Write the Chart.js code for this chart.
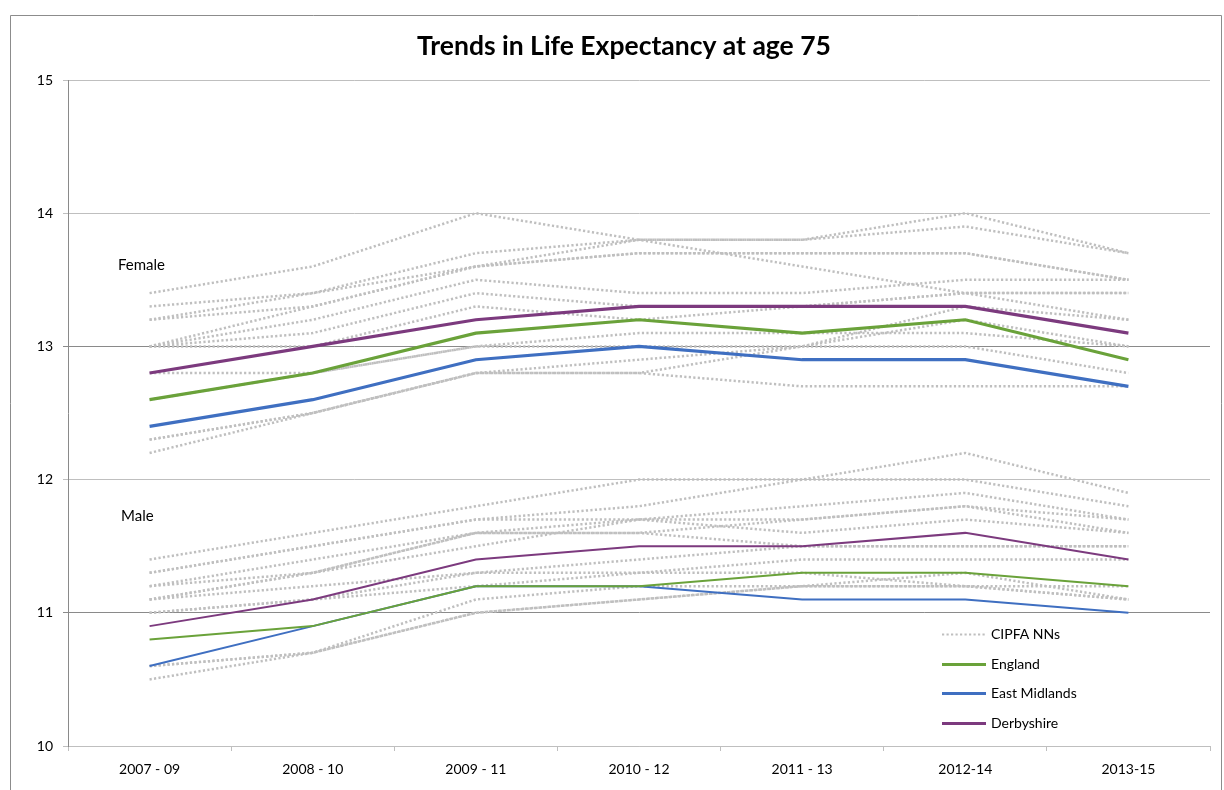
<!DOCTYPE html>
<html><head><meta charset="utf-8">
<script src="https://cdn.jsdelivr.net/npm/chart.js@4"></script>
<style>html,body{margin:0;padding:0;background:#fff}#wrap{width:1224px;height:790px;position:relative}</style>
</head><body><div id="wrap"><canvas id="c" width="1224" height="790"></canvas></div>
<script>
const categories = ["2007 - 09","2008 - 10","2009 - 11","2010 - 12","2011 - 13","2012-14","2013-15"];
const yTicks = [10,11,12,13,14,15];

const derbyshireFemale = [12.8,13.0,13.2,13.3,13.3,13.3,13.1];
const englandFemale    = [12.6,12.8,13.1,13.2,13.1,13.2,12.9];
const eastMidsFemale   = [12.4,12.6,12.9,13.0,12.9,12.9,12.7];
const derbyshireMale   = [10.9,11.1,11.4,11.5,11.5,11.6,11.4];
const englandMale      = [10.8,10.9,11.2,11.2,11.3,11.3,11.2];
const eastMidsMale     = [10.6,10.9,11.2,11.2,11.1,11.1,11.0];

const cipfaFemale = [
  [13.4,13.6,14.0,13.8,13.8,14.0,13.7],
  [13.3,13.4,13.7,13.8,13.8,13.9,13.7],
  [13.2,13.4,13.6,13.7,13.7,13.7,13.5],
  [13.2,13.3,13.6,13.8,13.6,13.4,13.4],
  [13.0,13.3,13.6,13.7,13.7,13.7,13.5],
  [13.0,13.2,13.5,13.4,13.4,13.5,13.5],
  [13.0,13.1,13.4,13.3,13.3,13.4,13.2],
  [13.0,13.0,13.3,13.2,13.3,13.4,13.4],
  [12.8,12.8,13.0,13.1,13.1,13.1,13.0],
  [12.6,12.8,13.0,13.0,13.0,13.2,13.0],
  [12.3,12.5,12.8,12.9,13.0,13.3,13.2],
  [12.3,12.5,12.8,12.8,13.0,13.0,12.8],
  [12.2,12.5,12.8,12.8,12.7,12.7,12.7]
];
const cipfaMale = [
  [11.4,11.6,11.8,12.0,12.0,12.0,11.8],
  [11.3,11.5,11.7,11.8,12.0,12.2,11.9],
  [11.3,11.5,11.7,11.7,11.8,11.9,11.7],
  [11.2,11.3,11.6,11.7,11.7,11.8,11.7],
  [11.2,11.4,11.6,11.6,11.7,11.8,11.6],
  [11.1,11.3,11.5,11.7,11.6,11.7,11.6],
  [11.1,11.3,11.6,11.6,11.5,11.5,11.5],
  [11.1,11.2,11.3,11.4,11.5,11.5,11.5],
  [11.0,11.1,11.3,11.3,11.4,11.4,11.4],
  [11.0,11.1,11.2,11.3,11.3,11.2,11.1],
  [10.6,10.7,11.1,11.2,11.2,11.2,11.2],
  [10.5,10.7,11.0,11.1,11.2,11.3,11.1],
  [10.6,10.7,11.0,11.1,11.2,11.2,11.1]
];
const legendLabels = ["CIPFA NNs","England","East Midlands","Derbyshire"];

const GREY = '#BFBFBF', GREEN = '#6AA23A', BLUE = '#3F6FC1', PURPLE = '#7C3A7E';
const FONT = 'Lato, "Open Sans", sans-serif';

const datasets = [];
[...cipfaFemale, ...cipfaMale].forEach(d => datasets.push({
  data: d, borderColor: GREY, borderWidth: 2.5, borderDash: [2.2, 2.3], borderCapStyle: 'butt', pointRadius: 0, tension: 0, order: 10
}));
function solid(d, c, w) { return {data: d, borderColor: c, borderWidth: w, pointRadius: 0, tension: 0, order: 1}; }
datasets.push(solid(englandFemale, GREEN, 3.2));
datasets.push(solid(eastMidsFemale, BLUE, 3.2));
datasets.push(solid(derbyshireFemale, PURPLE, 3.2));
datasets.push(solid(englandMale, GREEN, 2));
datasets.push(solid(eastMidsMale, BLUE, 2));
datasets.push(solid(derbyshireMale, PURPLE, 2));

const deco = {
  id: 'deco',
  beforeDraw(chart) {
    const ctx = chart.ctx;
    ctx.save();
    ctx.fillStyle = '#fff'; ctx.fillRect(0,0,1224,790);
    ctx.strokeStyle = '#8C8C8C'; ctx.lineWidth = 1;
    ctx.beginPath(); ctx.moveTo(10.5, 800); ctx.lineTo(10.5, 15.5); ctx.lineTo(1221.5, 15.5); ctx.lineTo(1221.5, 800); ctx.stroke();
    ctx.restore();
  },
  afterDraw(chart) {
    const ctx = chart.ctx;
    ctx.save();
    ctx.fillStyle = '#000';
    ctx.font = 'bold 26.5px ' + FONT;
    ctx.textAlign = 'center'; ctx.textBaseline = 'middle';
    ctx.fillText('Trends in Life Expectancy at age 75', 624, 46);
    ctx.font = '15px ' + FONT; ctx.textAlign = 'left';
    ctx.fillText('Female', 118, 265);
    ctx.fillText('Male', 121, 516);
    const cols = [GREY, GREEN, BLUE, PURPLE];
    const y0 = 634, dy = 29.5;
    ctx.font = '14px ' + FONT;
    legendLabels.forEach((t, i) => {
      const y = Math.round(y0 + i*dy) + 0.5;
      ctx.beginPath();
      ctx.strokeStyle = cols[i];
      if (i === 0) { ctx.setLineDash([2.2,2.3]); ctx.lineWidth = 2; } else { ctx.setLineDash([]); ctx.lineWidth = 3; }
      ctx.moveTo(942, y); ctx.lineTo(986, y); ctx.stroke();
      ctx.fillStyle = '#000';
      ctx.fillText(t, 991, y);
    });
    ctx.restore();
  }
};

new Chart(document.getElementById('c'), {
  type: 'line',
  data: { labels: categories, datasets },
  options: {
    responsive: false, animation: false,
    layout: { padding: { top: 80, right: 14, left: 0, bottom: 0 } },
    plugins: { legend: { display: false }, title: { display: false }, tooltip: { enabled: false } },
    scales: {
      x: {
        offset: true,
        grid: { offset: true, drawOnChartArea: false, tickLength: 5, color: '#BFBFBF' },
        border: { color: '#BFBFBF', width: 1 },
        ticks: { color: '#000', font: { family: FONT, size: 14 }, padding: 10, maxRotation: 0 },
        afterFit(s) { s.height = 44; }
      },
      y: {
        min: 10, max: 15,
        afterBuildTicks(s) { s.ticks = yTicks.map(v => ({ value: v })); },
        grid: { tickLength: 5, color: (c) => (c.tick && (c.tick.value === 13 || c.tick.value === 11)) ? '#8A8A8A' : '#BFBFBF' },
        border: { color: '#8A8A8A', width: 1 },
        ticks: { color: '#000', font: { family: FONT, size: 14 }, padding: 10 },
        afterFit(s) { s.width = 68; }
      }
    }
  },
  plugins: [deco]
});
</script>
</body></html>
